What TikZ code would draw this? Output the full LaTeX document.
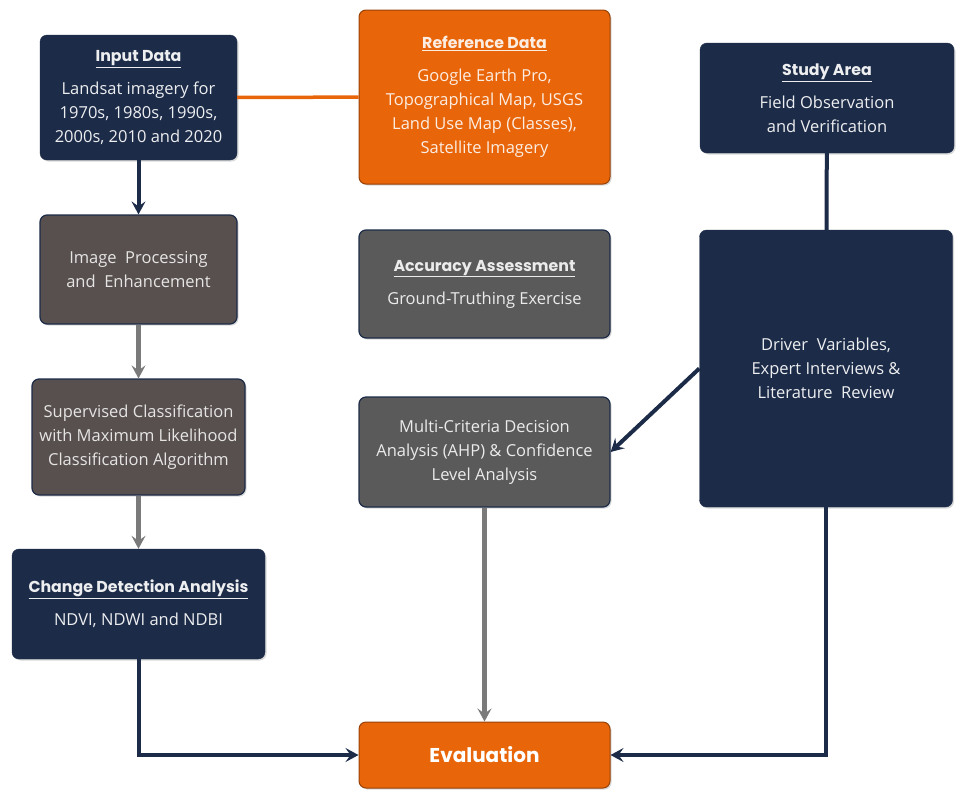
\documentclass[tikz,border=0pt]{standalone}
\usepackage{fontspec}
\setmainfont{Open Sans}
\newfontfamily\headfont{Poppins}
\usetikzlibrary{arrows.meta,shadows}

\definecolor{navy}{HTML}{1C2B48}
\definecolor{fireorange}{HTML}{E8650A}
\definecolor{warmgray}{HTML}{57504F}
\definecolor{stonegray}{HTML}{5A5A5A}
\definecolor{linegray}{HTML}{7A7A7A}

\newcommand{\boxhead}[1]{\underline{\headfont\bfseries\fontsize{15.8}{18}\selectfont #1}}

\tikzset{
  box/.style={rounded corners=7pt, align=center, inner sep=0pt,
    font=\fontsize{16.5}{24}\selectfont,
    drop shadow={opacity=0.3, shadow xshift=1.5pt, shadow yshift=-1.5pt}},
  navybox/.style={box, fill=navy, draw=navy, text=white!92!navy},
  orangebox/.style={box, fill=fireorange, draw=fireorange!65!black, line width=1pt, text=white!88!fireorange},
  brownbox/.style={box, fill=warmgray, draw=navy, line width=1.2pt, text=white!85!warmgray},
  greybox/.style={box, fill=stonegray, draw=navy, line width=1.2pt, text=white!88!stonegray},
  navyarrow/.style={draw=navy, line width=4pt, -{Stealth[length=13pt, width=14pt, inset=5pt]}},
  grayarrow/.style={draw=linegray, line width=4.5pt, -{Stealth[length=13pt, width=14pt, inset=5pt]}},
  navyline/.style={draw=navy, line width=4pt},
  orangeline/.style={draw=fireorange, line width=3.5pt},
}

\begin{document}
\begin{tikzpicture}[x=1pt, y=1pt]
  \useasboundingbox (0,0) rectangle (957,-790);

  % left column
  \node[navybox, minimum width=197, minimum height=125] (input) at (138.5,-97.5)
    {\boxhead{Input Data}\\[9pt] Landsat imagery for\\ 1970s, 1980s, 1990s,\\ 2000s, 2010 and 2020};
  \node[brownbox, minimum width=197, minimum height=109] (improc) at (138.5,-269.5)
    {Image\ \ Processing\\ and\ \ Enhancement};
  \node[brownbox, minimum width=213, minimum height=116] (superv) at (138.5,-437)
    {Supervised Classification\\ with Maximum Likelihood\\ Classification Algorithm};
  \node[navybox, minimum width=253, minimum height=110] (change) at (138.5,-604)
    {\boxhead{Change Detection Analysis}\\[9pt] NDVI, NDWI and NDBI};

  % middle column
  \node[orangebox, minimum width=251, minimum height=174] (refdata) at (484.5,-97)
    {\boxhead{Reference Data}\\[9pt] Google Earth Pro,\\ Topographical Map, USGS\\ Land Use Map (Classes),\\ Satellite Imagery};
  \node[greybox, minimum width=251, minimum height=108] (accur) at (484.5,-284)
    {\boxhead{Accuracy Assessment}\\[9pt] Ground-Truthing Exercise};
  \node[greybox, minimum width=251, minimum height=110] (mcda) at (484.5,-452)
    {Multi-Criteria Decision\\ Analysis (AHP) \& Confidence\\ Level Analysis};
  \node[orangebox, minimum width=251, minimum height=66, text=white] (eval) at (484.5,-755)
    {\headfont\bfseries\fontsize{20}{24}\selectfont Evaluation};

  % right column
  \node[navybox, minimum width=254, minimum height=110] (study) at (827,-98)
    {\boxhead{Study Area}\\[9pt] Field Observation\\ and Verification};
  \node[navybox, minimum width=253, minimum height=277] (driver) at (826,-368.5)
    {Driver\ \ Variables,\\ Expert Interviews \&\\ Literature\ \ Review};

  % connectors
  \draw[navyarrow] (input) -- (improc);
  \draw[grayarrow] (improc) -- (superv);
  \draw[grayarrow] (superv) -- (change);
  \draw[navyarrow] (change.south) |- (eval.west);
  \draw[orangeline] (input) -- (refdata);
  \draw[navyline] (study) -- (driver);
  \draw[navyarrow] (driver.west) -- (mcda.east);
  \draw[grayarrow] (mcda) -- (eval);
  \draw[navyarrow] (driver.south) |- (eval.east);
\end{tikzpicture}
\end{document}
